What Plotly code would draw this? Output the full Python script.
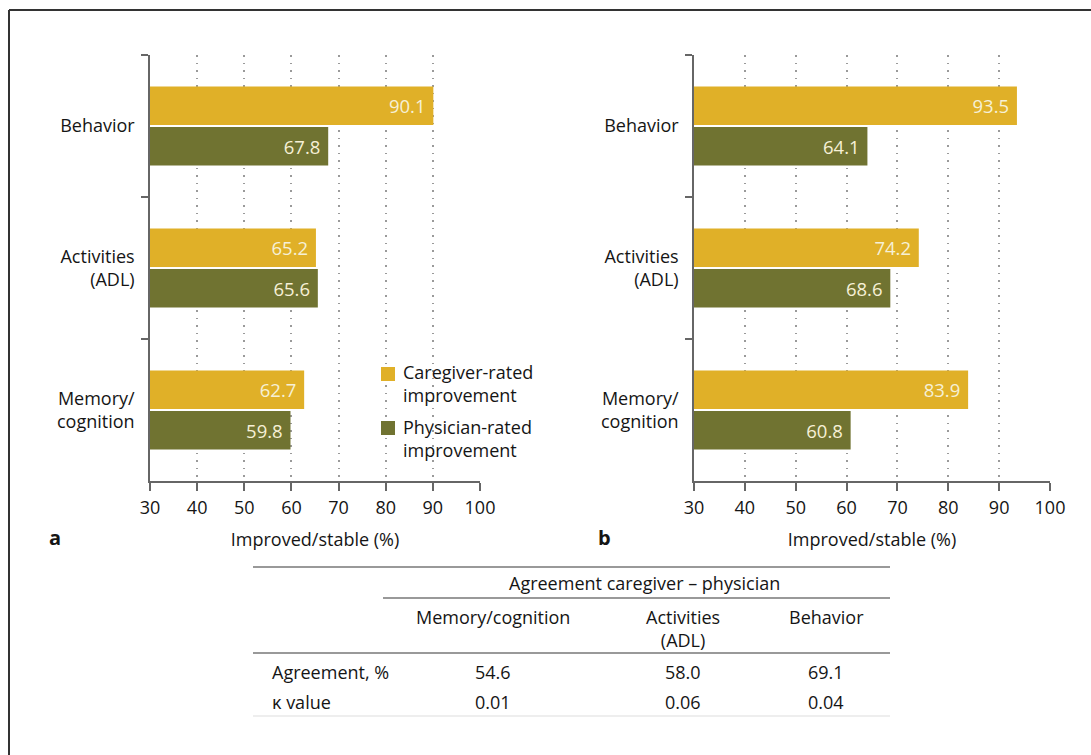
import plotly.graph_objects as go

W, H = 1091, 755

categories = ["Memory/<br>cognition", "Activities<br>(ADL)", "Behavior"]
caregiver_a = [62.7, 65.2, 90.1]
physician_a = [59.8, 65.6, 67.8]
caregiver_b = [83.9, 74.2, 93.5]
physician_b = [60.8, 68.6, 64.1]
series_names = ["Caregiver-rated<br>improvement", "Physician-rated<br>improvement"]
x_ticks = [30, 40, 50, 60, 70, 80, 90, 100]
x_title = "Improved/stable (%)"

table_title = "Agreement caregiver – physician"
table_cols = ["Memory/cognition", "Activities<br>(ADL)", "Behavior"]
table_rows = ["Agreement, %", "κ value"]
agreement = ["54.6", "58.0", "69.1"]
kappa = ["0.01", "0.06", "0.04"]

GOLD = "#E0B028"
OLIVE = "#707331"
TXT = "#151515"
FONT = "Open Sans"
FS = 18


def X(px):
    return px / W


def Y(py):
    return 1 - py / H


fig = go.Figure()

for xa, ya, cg, ph in [("x", "y", caregiver_a, physician_a),
                       ("x2", "y2", caregiver_b, physician_b)]:
    fig.add_trace(go.Bar(
        y=categories, x=ph, orientation="h", name=series_names[1],
        marker=dict(color=OLIVE, line=dict(width=0)),
        text=[f"{v:.1f}\u00a0" for v in ph], textposition="inside",
        insidetextanchor="end", textfont=dict(color="#F6F0D6", size=18.5, family=FONT),
        xaxis=xa, yaxis=ya, showlegend=False, hoverinfo="x"))
    fig.add_trace(go.Bar(
        y=categories, x=cg, orientation="h", name=series_names[0],
        marker=dict(color=GOLD, line=dict(width=0)),
        text=[f"{v:.1f}\u00a0" for v in cg], textposition="inside",
        insidetextanchor="end", textfont=dict(color="#F6F0D6", size=18.5, family=FONT),
        xaxis=xa, yaxis=ya, showlegend=False, hoverinfo="x"))

xcommon = dict(range=[30, 100], tickmode="array", tickvals=x_ticks,
               showline=True, linecolor="#666", linewidth=1.5,
               ticks="outside", ticklen=8, tickwidth=1.5, tickcolor="#666",
               showgrid=True, gridcolor="#9a9a9a", gridwidth=1.5, griddash="1.5px,6px",
               zeroline=False, tickfont=dict(size=18, color=TXT, family=FONT),
               ticklabelstandoff=2,
               title=dict(text=x_title, font=dict(size=FS, color=TXT, family=FONT), standoff=15),
               automargin=False, fixedrange=True)
ycommon = dict(type="category", categoryorder="array", categoryarray=categories,
               range=[-0.5, 2.5], showline=True, linecolor="#666", linewidth=1.5,
               ticks="outside", ticklen=7, tickwidth=1.5, tickcolor="#666",
               tickson="boundaries", showgrid=False, zeroline=False,
               ticklabelstandoff=10,
               tickfont=dict(size=FS, color=TXT, family=FONT), automargin=False,
               fixedrange=True)

fig.update_layout(
    width=W, height=H, autosize=False, margin=dict(l=0, r=0, t=0, b=0, pad=0),
    paper_bgcolor="white", plot_bgcolor="white",
    barmode="group", bargap=0.43, bargroupgap=0.05,
    font=dict(family=FONT, size=FS, color=TXT),
    xaxis=dict(domain=[X(150), X(480)], anchor="y", **xcommon),
    xaxis2=dict(domain=[X(694), X(1050)], anchor="y2", **xcommon),
    yaxis=dict(domain=[Y(481), Y(55)], anchor="x", **ycommon),
    yaxis2=dict(domain=[Y(481), Y(55)], anchor="x2", **ycommon),
    showlegend=False,
)

shapes = []
# outer frame
shapes.append(dict(type="line", xref="paper", yref="paper", x0=X(9), x1=X(1095), y0=Y(10), y1=Y(10),
                   line=dict(color="#333", width=2)))
shapes.append(dict(type="line", xref="paper", yref="paper", x0=X(9), x1=X(9), y0=Y(10), y1=Y(760),
                   line=dict(color="#333", width=2)))
# table rules
for x0, y, col, wd in [(253, 567, "#777", 1.5), (383, 598, "#777", 1.5),
                       (253, 653, "#777", 1.5), (253, 716, "#ddd", 1)]:
    shapes.append(dict(type="line", xref="paper", yref="paper", x0=X(x0), x1=X(890),
                       y0=Y(y), y1=Y(y), line=dict(color=col, width=wd)))
# legend swatches
for py, col in [(374, GOLD), (428, OLIVE)]:
    shapes.append(dict(type="rect", xref="paper", yref="paper", x0=X(381), x1=X(395),
                       y0=Y(py + 7), y1=Y(py - 7), fillcolor=col, line=dict(width=0)))
fig.update_layout(shapes=shapes)

ann = []
ann.append(dict(text="<b>a</b>", x=X(47), y=Y(537), xanchor="left", yanchor="middle", size=20))
ann.append(dict(text="<b>b</b>", x=X(596), y=Y(537), xanchor="left", yanchor="middle", size=20))
for py, name in [(358, series_names[0]), (413, series_names[1])]:
    ann.append(dict(text=name, x=X(401), y=Y(py), xanchor="left", yanchor="top", align="left"))
ann.append(dict(text=table_title, x=X(644), y=Y(583), xanchor="center", yanchor="middle"))
col_x = [493, 683, 826]
for cx, t in zip(col_x, table_cols):
    ann.append(dict(text=t, x=X(cx), y=Y(603), xanchor="center", yanchor="top"))
for ry, label, vals in [(672, table_rows[0], agreement), (702, table_rows[1], kappa)]:
    ann.append(dict(text=label, x=X(270), y=Y(ry), xanchor="left", yanchor="middle"))
    for cx, v in zip(col_x, vals):
        ann.append(dict(text=v, x=X(cx), y=Y(ry), xanchor="center", yanchor="middle"))
for a in ann:
    sz = a.pop("size", FS)
    a.update(xref="paper", yref="paper", showarrow=False,
             font=dict(size=sz, color=TXT, family=FONT))
fig.update_layout(annotations=ann)

fig.write_html("out.html", config={"displayModeBar": False},
               post_script="document.body.style.margin='0';document.body.style.overflow='hidden';")
